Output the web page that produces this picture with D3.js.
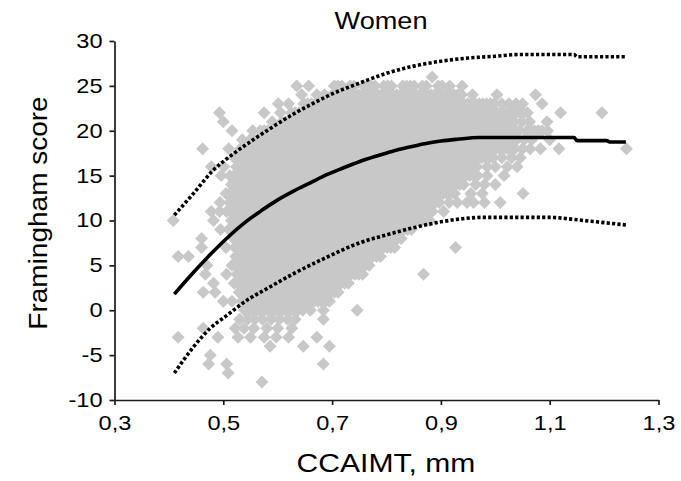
<!DOCTYPE html>
<html>
<head>
<meta charset="utf-8">
<script src="https://cdn.jsdelivr.net/npm/d3@7"></script>
<style>
  body { margin: 0; background: #fff; }
  svg { display: block; font-family: "Liberation Sans", Arial, sans-serif; }
</style>
</head>
<body>
<svg id="chart" width="681" height="481"></svg>
<script>
// axis ticks
const xTicks = [0.3, 0.5, 0.7, 0.9, 1.1, 1.3];
const yTicks = [-10, -5, 0, 5, 10, 15, 20, 25, 30];

// fitted curve (solid) and the two dotted limits
const meanX = [0.41, 0.445, 0.476, 0.506, 0.54, 0.57, 0.60, 0.63, 0.66, 0.69, 0.72, 0.75, 0.78, 0.81, 0.84, 0.87, 0.90, 0.93, 0.97, 1.145, 1.15, 1.205, 1.21, 1.24];
const meanY = [1.8, 4.2, 6.2, 8.0, 9.8, 11.1, 12.3, 13.3, 14.2, 15.1, 15.85, 16.55, 17.15, 17.7, 18.15, 18.55, 18.85, 19.05, 19.25, 19.25, 18.9, 18.9, 18.75, 18.75];

const upperX = [0.41, 0.445, 0.48, 0.52, 0.555, 0.59, 0.63, 0.67, 0.70, 0.75, 0.80, 0.85, 0.90, 0.95, 1.00, 1.045, 1.145, 1.15, 1.24];
const upperY = [10.6, 13.0, 15.5, 17.5, 19.0, 20.4, 21.9, 23.2, 24.1, 25.3, 26.4, 27.2, 27.75, 28.1, 28.3, 28.5, 28.5, 28.25, 28.25];

const lowerX = [0.41, 0.445, 0.476, 0.506, 0.543, 0.58, 0.63, 0.69, 0.75, 0.80, 0.85, 0.90, 0.94, 0.98, 1.10, 1.14, 1.17, 1.21, 1.24];
const lowerY = [-7.0, -4.1, -2.0, -0.6, 1.1, 2.4, 4.1, 5.9, 7.5, 8.4, 9.2, 9.85, 10.2, 10.35, 10.35, 10.15, 9.95, 9.7, 9.5];

// scatter: [score, CCAIMT values in 1/1000 mm]
const scoreRows = [
  [26, "884"],
  [25, "635 657 704 711 718 733 740 758 765 772 779 795 802 809 830 837 844 851 866 873 895 902 916 939"],
  [24, "644 672 686 700 707 714 721 728 735 742 749 756 763 770 777 784 791 798 805 812 819 826 833 840 847 854 861 868 875 882 889 896 903 910 917 924 931 938 958 1003 1074"],
  [23, "601 620 648 655 662 669 676 683 690 697 704 711 718 725 732 739 746 753 760 767 774 781 788 795 802 809 816 823 830 837 844 851 858 865 872 879 886 893 900 907 914 921 928 935 942 949 956 963 970 977 984 991 998 1012 1025 1038 1050 1086"],
  [22, "493 575 605 625 632 639 646 653 660 667 674 681 688 695 702 709 716 723 730 737 744 751 758 765 772 779 786 793 800 807 814 821 828 835 842 849 856 863 870 877 884 891 898 905 912 919 926 933 940 947 954 961 968 975 982 989 996 1003 1010 1017 1024 1031 1038 1045 1052 1059 1120 1196"],
  [21, "500 590 608 615 622 629 636 643 650 657 664 671 678 685 692 699 706 713 720 727 734 741 748 755 762 769 776 783 790 797 804 811 818 825 832 839 846 853 860 867 874 881 888 895 902 909 916 923 930 937 944 951 958 965 972 979 986 993 1000 1007 1014 1021 1028 1035 1049 1063 1095"],
  [20, "516 554 568 575 582 589 596 603 610 617 624 631 638 645 652 659 666 673 680 687 694 701 708 715 722 729 736 743 750 757 764 771 778 785 792 799 806 813 820 827 834 841 848 855 862 869 876 883 890 897 904 911 918 925 932 939 946 953 960 967 974 981 988 995 1002 1009 1016 1023 1030 1037 1044 1058 1065 1072 1079 1086 1096"],
  [19, "535 549 556 563 570 577 584 591 598 605 612 619 626 633 640 647 654 661 668 675 682 689 696 703 710 717 724 731 738 745 752 759 766 773 780 787 794 801 808 815 822 829 836 843 850 857 864 871 878 885 892 899 906 913 920 927 934 941 948 955 962 969 976 983 990 997 1004 1011 1018 1025 1032 1039 1053 1067 1100"],
  [18, "462 510 532 539 546 553 560 567 574 581 588 595 602 609 616 623 630 637 644 651 658 665 672 679 686 693 700 707 714 721 728 735 742 749 756 763 770 777 784 791 798 805 812 819 826 833 840 847 854 861 868 875 882 889 896 903 910 917 924 931 938 945 952 959 966 973 980 987 994 1001 1008 1015 1022 1029 1036 1050 1064 1083 1117 1241"],
  [17, "520 527 534 541 548 555 562 569 576 583 590 597 604 611 618 625 632 639 646 653 660 667 674 681 688 695 702 709 716 723 730 737 744 751 758 765 772 779 786 793 800 807 814 821 828 835 842 849 856 863 870 877 884 891 898 905 912 919 926 933 940 947 954 961 968 975 982 989 996 1012 1030 1046"],
  [16, "478 501 524 532 539 546 553 560 567 574 581 588 595 602 609 616 623 630 637 644 651 658 665 672 679 686 693 700 707 714 721 728 735 742 749 756 763 770 777 784 791 798 805 812 819 826 833 840 847 854 861 868 875 882 889 896 903 910 917 924 931 938 945 952 959 966 985 1000 1022 1040"],
  [15, "496 512 519 526 533 540 547 554 561 568 575 582 589 596 603 610 617 624 631 638 645 652 659 666 673 680 687 694 701 708 715 722 729 736 743 750 757 764 771 778 785 792 799 806 813 820 827 834 841 848 855 862 869 876 883 890 897 904 911 918 925 932 939 946 953 960 967 985 1016"],
  [14, "515 522 529 536 543 550 557 564 571 578 585 592 599 606 613 620 627 634 641 648 655 662 669 676 683 690 697 704 711 718 725 732 739 746 753 760 767 774 781 788 795 802 809 816 823 830 837 844 851 858 865 872 879 886 893 900 907 914 921 928 935 942 964 980 1000"],
  [13, "505 512 519 526 533 540 547 554 561 568 575 582 589 596 603 610 617 624 631 638 645 652 659 666 673 680 687 694 701 708 715 722 729 736 743 750 757 764 771 778 785 792 799 806 813 820 827 834 841 848 855 862 869 876 883 890 897 904 911 918 925 955 976 1051"],
  [12, "494 512 519 526 533 540 547 554 561 568 575 582 589 596 603 610 617 624 631 638 645 652 659 666 673 680 687 694 701 708 715 722 729 736 743 750 757 764 771 778 785 792 799 806 813 820 827 834 841 848 855 862 869 876 883 890 897 915 930 948 960 980 1009"],
  [11, "478 493 506 513 520 527 534 541 548 555 562 569 576 583 590 597 604 611 618 625 632 639 646 653 660 667 674 681 688 695 702 709 716 723 730 737 744 751 758 765 772 779 786 793 800 807 814 821 828 835 842 849 856 863 870 877 884 905"],
  [10, "408 482 515 522 529 536 543 550 557 564 571 578 585 592 599 606 613 620 627 634 641 648 655 662 669 676 683 690 697 704 711 718 725 732 739 746 753 760 767 774 781 788 795 802 809 816 823 830 837 844 851 858 865 872 879"],
  [9, "495 510 517 524 531 538 545 552 559 566 573 580 587 594 601 608 615 622 629 636 643 650 657 664 671 678 685 692 699 706 713 720 727 734 741 748 755 762 769 776 783 790 797 804 811 818 825 832 839 846"],
  [8, "460 519 526 533 540 547 554 561 568 575 582 589 596 603 610 617 624 631 638 645 652 659 666 673 680 687 694 701 708 715 722 729 736 743 750 757 764 771 778 785 792 799 806 813 820 827"],
  [7, "460 505 521 528 535 542 549 556 563 570 577 584 591 598 605 612 619 626 633 640 647 654 661 668 675 682 689 696 703 710 717 724 731 738 745 752 759 766 773 780 787 794 801 808 815 927"],
  [6, "417 436 523 530 537 544 551 558 565 572 579 586 593 600 607 614 621 628 635 642 649 656 663 670 677 684 691 698 705 712 719 726 733 740 747 754 761 768 775 782 789"],
  [5, "470 516 523 530 537 544 551 558 565 572 579 586 593 600 607 614 621 628 635 642 649 656 663 670 677 684 691 698 705 712 719 726 733 740 747 754 761 768"],
  [4, "467 506 525 532 539 546 553 560 567 574 581 588 595 602 609 616 623 630 637 644 651 658 665 672 679 686 693 700 707 714 721 728 735 742 749 756 868"],
  [3, "482 520 527 534 541 548 555 562 569 576 583 590 597 604 611 618 625 632 639 646 653 660 667 674 681 688 695 702 709 716 723 730"],
  [2, "463 485 529 536 543 550 557 564 571 578 585 592 599 606 613 620 627 634 641 648 655 662 669 676 683 690 697 704 711"],
  [1, "500 516 534 541 548 555 562 569 576 583 590 597 604 611 618 625 632 639 646 653 660 667 674 681 688 695"],
  [0, "539 546 553 560 567 574 581 588 595 602 609 616 623 630 637 646 660 684 746"],
  [-1, "530 545 558 572 588 603 618 632 684"],
  [-2, "463 522 538 556 580 600 626"],
  [-3, "417 490 527 550 575 597 620 672"],
  [-4, "586 647 695"],
  [-5, "476"],
  [-6, "473 506 684"],
  [-7, "509"],
  [-8, "571"]
];

const points = scoreRows.flatMap(([score, xs]) =>
  xs.split(" ").map(v => ({ x: +v / 1000, y: score })));

const svg = d3.select("#chart");
const x = d3.scaleLinear().domain([0.3, 1.3]).range([114.5, 658.5]);
const y = d3.scaleLinear().domain([-10, 30]).range([400, 41]);
const stretch = 1.18; // the source lettering is wider than Arial

// scatter
svg.append("g")
  .selectAll("path")
  .data(points)
  .join("path")
  .attr("transform", d => `translate(${x(d.x)},${y(d.y)}) rotate(45)`)
  .attr("d", d3.symbol(d3.symbolSquare, 84.5))
  .attr("fill", "#c8c8c8");

// curves
const line = d3.line()
  .x(d => x(d[0]))
  .y(d => y(d[1]))
  .curve(d3.curveMonotoneX);

[[upperX, upperY], [lowerX, lowerY]].forEach(([xs, ys]) => {
  svg.append("path")
    .datum(d3.zip(xs, ys))
    .attr("d", line)
    .attr("fill", "none")
    .attr("stroke", "#000")
    .attr("stroke-width", 3.6)
    .attr("stroke-dasharray", "3.2 2.2");
});

svg.append("path")
  .datum(d3.zip(meanX, meanY))
  .attr("d", line)
  .attr("fill", "none")
  .attr("stroke", "#000")
  .attr("stroke-width", 3.6);

// axes
const yAxis = svg.append("g")
  .attr("transform", "translate(114.5,0)")
  .call(d3.axisLeft(y).tickValues(yTicks).tickSizeInner(5).tickSizeOuter(0).tickPadding(7)
    .tickFormat(d => String(d)));

const xAxis = svg.append("g")
  .attr("transform", "translate(0,400)")
  .call(d3.axisBottom(x).tickValues(xTicks).tickSizeInner(5).tickSizeOuter(0).tickPadding(11)
    .tickFormat(d => d3.format(".1f")(d).replace(".", ",")));

[yAxis, xAxis].forEach(g => {
  g.attr("font-size", null).attr("font-family", null);
  g.selectAll("path, line").attr("stroke", "#1a1a1a").attr("stroke-width", 1.7);
  g.selectAll("text")
    .attr("font-size", 20)
    .attr("fill", "#000");
});
yAxis.selectAll("text")
  .attr("x", -12 / stretch)
  .attr("transform", `scale(${stretch},1)`);
xAxis.selectAll("text")
  .attr("transform", `scale(${stretch},1)`);

// titles
svg.append("text")
  .attr("transform", `translate(381,28.5) scale(${stretch},1)`)
  .attr("text-anchor", "middle")
  .attr("font-size", 23)
  .attr("fill", "#000")
  .text("Women");

svg.append("text")
  .attr("transform", `translate(386,471.5) scale(${stretch},1)`)
  .attr("text-anchor", "middle")
  .attr("font-size", 25.5)
  .attr("fill", "#000")
  .text("CCAIMT, mm");

svg.append("text")
  .attr("transform", `translate(47,213) rotate(-90) scale(1.12,1)`)
  .attr("text-anchor", "middle")
  .attr("font-size", 25)
  .attr("fill", "#000")
  .text("Framingham score");
</script>
</body>
</html>
